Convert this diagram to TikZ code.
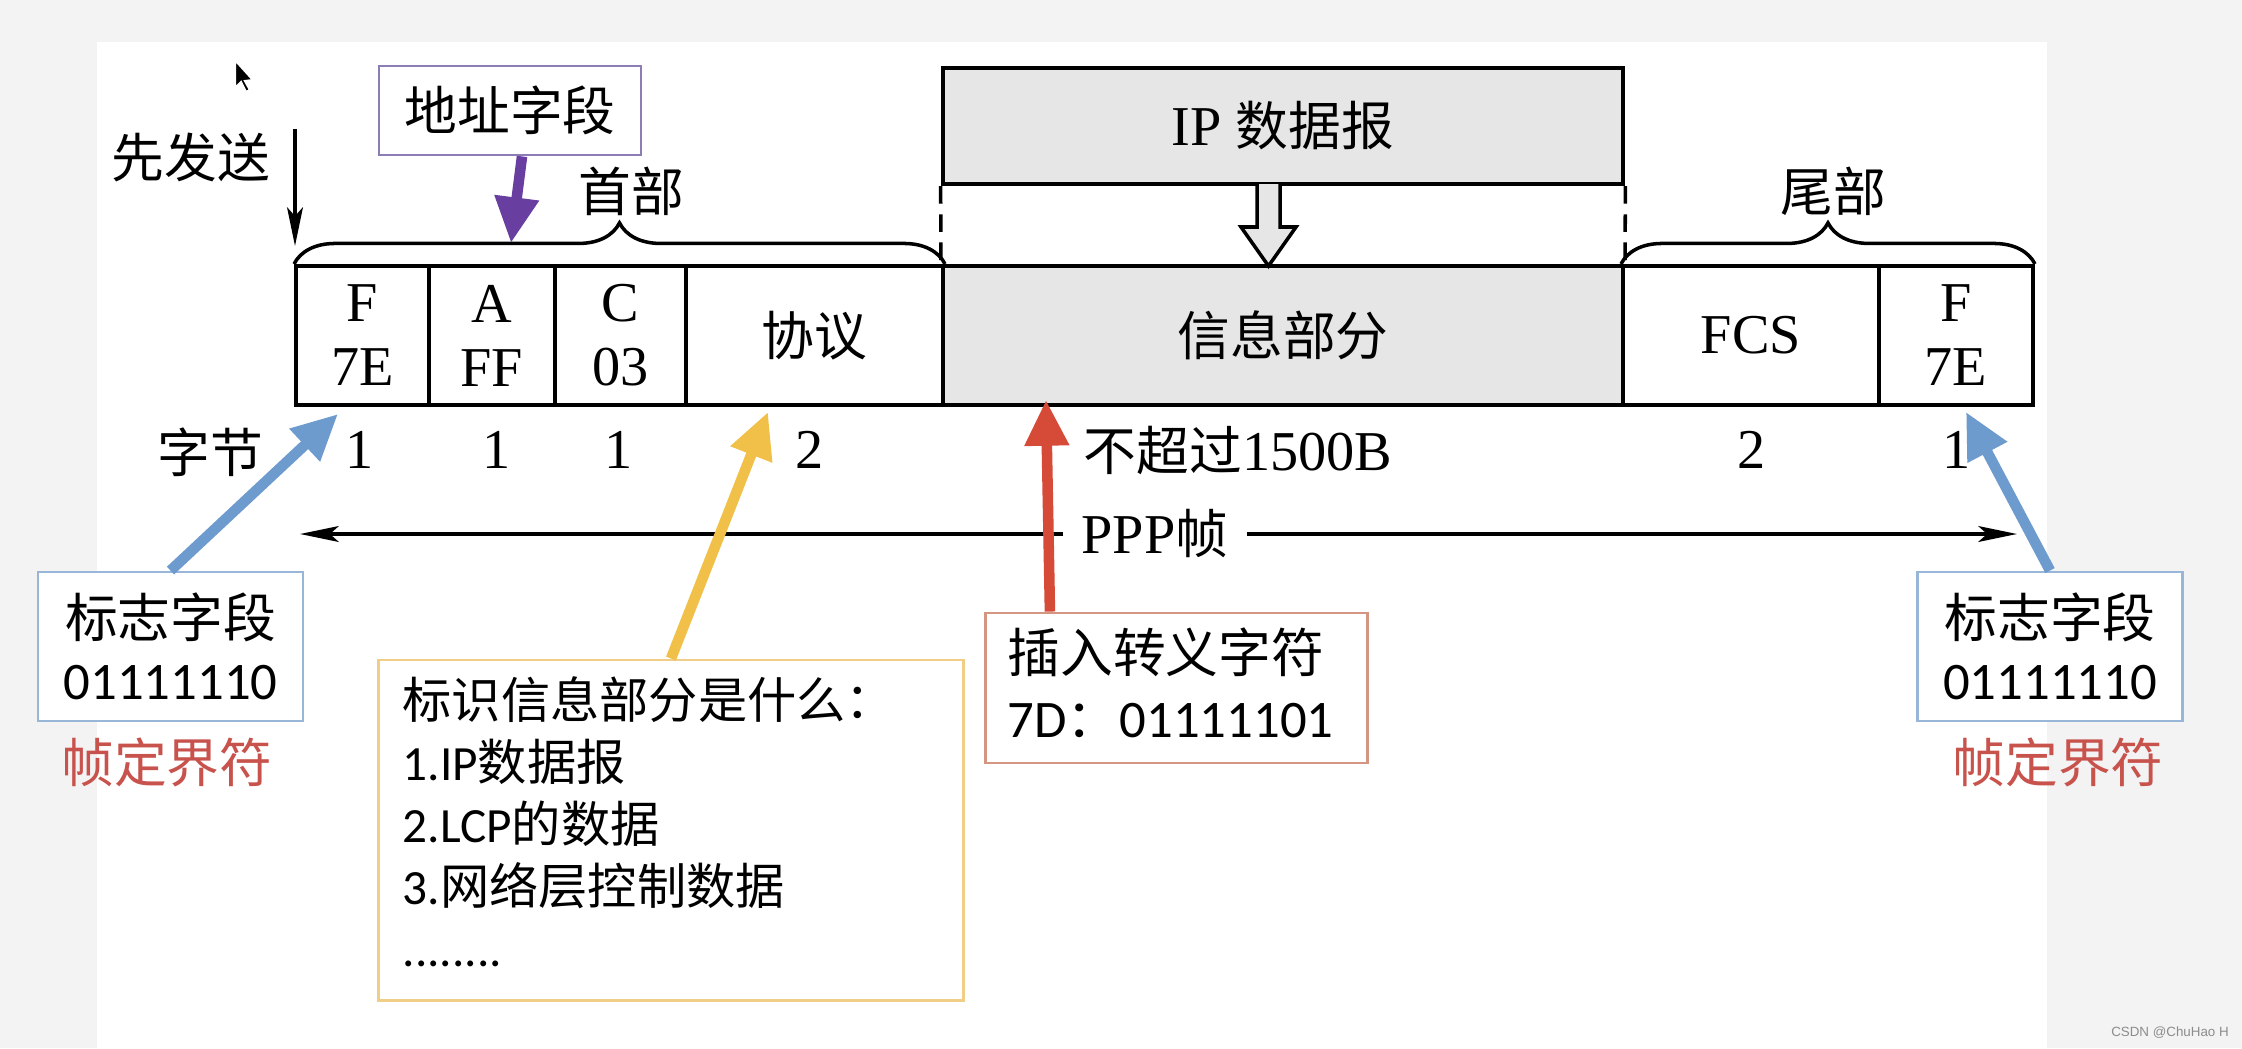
\documentclass[tikz,border=0pt]{standalone}
\usepackage{fontspec}
\setmainfont{Liberation Serif}
\newfontfamily\cjk{Noto Sans CJK SC}
\newfontfamily\lat{Carlito}
\newfontfamily\wmfont{Liberation Sans}
\newcommand\zh[1]{{\cjk\fontsize{15}{18}\selectfont #1}}
\usetikzlibrary{arrows.meta,decorations.pathreplacing,calc}
\definecolor{bgc}{RGB}{243,243,243}
\definecolor{infogrey}{RGB}{230,230,230}
\definecolor{purp}{RGB}{104,62,160}
\definecolor{bluec}{RGB}{110,155,206}
\definecolor{yelc}{RGB}{240,192,72}
\definecolor{redc}{RGB}{214,74,56}
\definecolor{redtext}{RGB}{200,82,76}
\definecolor{addrc}{RGB}{140,125,180}
\definecolor{lblblue}{RGB}{152,182,216}
\definecolor{yelbox}{RGB}{240,206,135}
\definecolor{redbox}{RGB}{210,150,130}
\begin{document}
\begin{tikzpicture}[x=0.01cm,y=-0.01cm,
  cell/.style={draw, line width=1.1pt, minimum height=1.39cm, inner sep=0pt, align=center, font=\fontsize{16}{18.2}\selectfont},
  serif/.style={font=\fontsize{16}{18}\selectfont, inner sep=1pt},
  lbl/.style={draw=lblblue, line width=0.8pt, fill=white, align=center, font=\fontsize{15}{17.6}\selectfont, minimum width=2.65cm, minimum height=1.49cm, inner sep=0pt},
  redlbl/.style={text=redtext, font=\fontsize{15}{18}\selectfont\cjk, inner sep=1pt},
  txt/.style={inner sep=0pt, anchor=north west, align=left},
  fat/.style={line width=3pt, -{Triangle[length=13pt,width=12pt]}},
  thinarrow/.style={line width=1pt, -{Stealth[length=11pt,width=4.5pt,inset=2.5pt]}},
  bracestyle/.style={line width=1pt, decorate, decoration={brace, amplitude=11.7pt}},
  dashline/.style={line width=1pt, dash pattern=on 5pt off 3pt}
]
\useasboundingbox (0,0) rectangle (2242,1048);
\fill[bgc] (0,0) rectangle (2242,1048);
\fill[white] (97,42) rectangle (2047,1048);

% mouse cursor
\draw[white, line width=0.6pt, fill=black] (235,60) -- (235,88) -- (241,82) -- (246,92) -- (250,90) -- (245,81) -- (253,80) -- cycle;

% frame cells
\node[cell, minimum width=1.33cm] (fF) at (362.5,335.5) {F\\7E};
\node[cell, minimum width=1.26cm] (fA) at (492,335.5) {A\\FF};
\node[cell, minimum width=1.31cm] (fC) at (620.5,335.5) {C\\03};
\node[cell, minimum width=2.57cm] (fP) at (814.5,335.5) {\zh{协议}};
\node[cell, fill=infogrey, minimum width=6.80cm] (fI) at (1283,335.5) {\zh{信息部分}};
\node[cell, minimum width=2.56cm] (fS) at (1751,335.5) {FCS};
\node[cell, minimum width=1.54cm] (fE) at (1956,335.5) {F\\7E};

% IP datagram box
\node[draw, line width=1.2pt, fill=infogrey, minimum width=6.80cm, minimum height=1.16cm, inner sep=0pt, font=\fontsize{16}{18}\selectfont] (ip) at (1283,126) {IP \zh{数据报}};
\draw[dashline] (ip.south west) -- (fI.north west);
\draw[dashline] (ip.south east) -- (fI.north east);
% hollow arrow
\draw[line width=1pt, fill=infogrey, line join=miter] (1257,184) -- (1257,227) -- (1241,227) -- (1268.5,266) -- (1296,227) -- (1280,227) -- (1280,184);

% braces
\draw[bracestyle] (fF.north west) -- (fP.north east);
\draw[bracestyle] (fS.north west) -- (fE.north east);
\node[serif] (hd) at (631,191) {\zh{首部}};
\node[serif] (tl) at (1833,191) {\zh{尾部}};

% send first
\node[serif] (xfs) at (191,157) {\zh{先发送}};
\coordinate (sendTop) at (295,129);
\coordinate (sendBot) at (295,246);
\draw[thinarrow] (sendTop) -- (sendBot);

% address field
\node[draw=addrc, line width=0.8pt, fill=white, minimum width=2.62cm, minimum height=0.89cm, inner sep=0pt] (addr) at (510,110.5) {\zh{地址字段}};
\coordinate (tipA) at (511,243);
\draw[fat, purp] ([xshift=0.12cm]addr.south) -- (tipA);

% byte row
\node[serif] (b0) at (210,452) {\zh{字节}};
\node[serif] (b1) at (360,450) {1};
\node[serif] (b2) at (497,450) {1};
\node[serif] (b3) at (619,450) {1};
\node[serif] (b4) at (810,450) {2};
\node[serif] (b5) at (1238,450) {\zh{不超过}1500B};
\node[serif] (b6) at (1752,450) {2};
\node[serif] (b7) at (1957,450) {1};

% PPP frame arrow
\node[serif, fill=white, inner xsep=5pt] (ppp) at (1155,534) {PPP\zh{帧}};
\coordinate (pppL) at (300,534);
\coordinate (pppR) at (2017,534);
\draw[thinarrow] (ppp.west) -- (pppL);
\draw[thinarrow] (ppp.east) -- (pppR);

% flag labels
\node[lbl] (flagL) at (170.5,646.5) {{\cjk 标志字段}\\{\lat 01111110}};
\node[lbl] (flagR) at (2050,646.5) {{\cjk 标志字段}\\{\lat 01111110}};
\node[redlbl] (dL) at (167,762) {帧定界符};
\node[redlbl] (dR) at (2058,762) {帧定界符};

% protocol explanation
\node[draw=yelbox, line width=0.8pt, fill=white, minimum width=5.84cm, minimum height=3.4cm, inner sep=0pt] (proto) at (671,830) {};
\node[txt, font=\fontsize{14}{17.6}\selectfont] (protoText) at (402,676) {{\cjk 标识信息部分是什么：}\\{\lat 1.IP}{\cjk 数据报}\\{\lat 2.LCP}{\cjk 的数据}\\{\lat 3.}{\cjk 网络层控制数据}\\{\lat ........}};

% escape box
\node[draw=redbox, line width=0.8pt, fill=white, minimum width=3.81cm, minimum height=1.5cm, inner sep=0pt] (esc) at (1176.5,688) {};
\node[txt, font=\fontsize{15}{18.5}\selectfont] (escText) at (1007,627) {{\cjk 插入转义字符}\\{\lat 7D}{\cjk ：}{\lat 01111101}};

% colored arrows
\coordinate (tipL) at (338,414);
\coordinate (tipR) at (1966,412);
\coordinate (tipP) at (768,412);
\coordinate (tipI) at (1046,400);
\draw[fat, bluec] (flagL.north) -- (tipL);
\draw[fat, bluec] (flagR.north) -- (tipR);
\draw[fat, yelc] (proto.north) -- (tipP);
\draw[fat, redc] ([xshift=-1.265cm]esc.north) -- (tipI);

% watermark
\node[text=black!45, font=\fontsize{3.8}{4.5}\selectfont\wmfont, inner sep=0pt] (wm) at (2170,1033) {CSDN @ChuHao H};
\end{tikzpicture}
\end{document}
